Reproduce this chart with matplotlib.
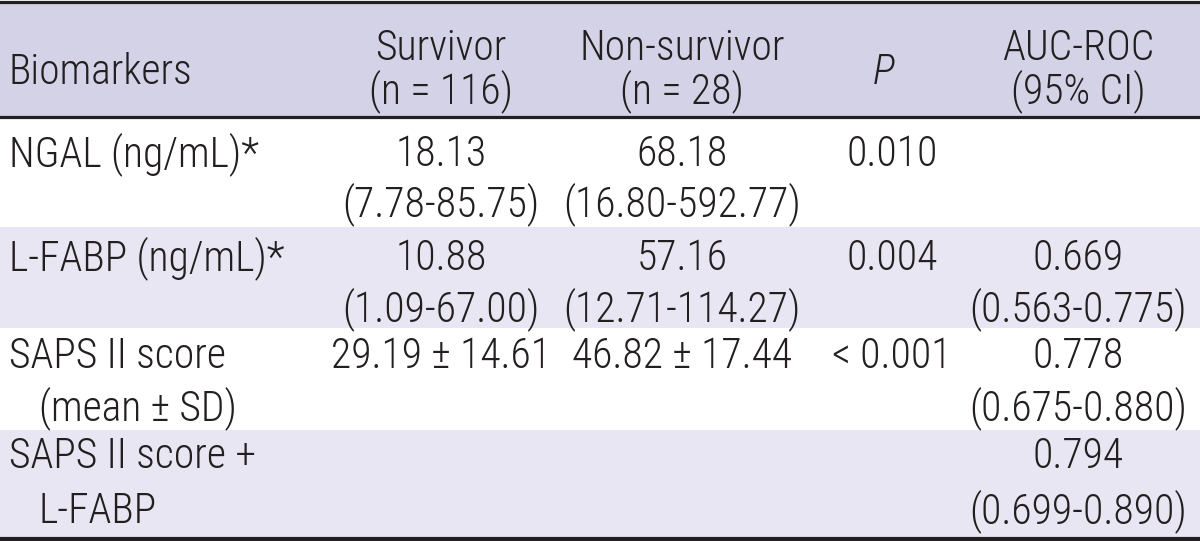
import matplotlib
matplotlib.use("Agg")
import matplotlib.pyplot as plt

# ---------------- data ----------------
header_biomarker = "Biomarkers"
header_survivor = ["Survivor", "(n = 116)"]
header_nonsurvivor = ["Non-survivor", "(n = 28)"]
header_p = "P"
header_auc = ["AUC-ROC", "(95% CI)"]

biomarkers = [["NGAL (ng/mL)*", ""],
              ["L-FABP (ng/mL)*", ""],
              ["SAPS II score", "(mean \u00b1 SD)"],
              ["SAPS II score +", "L-FABP"]]
survivor = [["18.13", "(7.78-85.75)"],
            ["10.88", "(1.09-67.00)"],
            ["29.19 \u00b1 14.61", ""],
            ["", ""]]
nonsurvivor = [["68.18", "(16.80-592.77)"],
               ["57.16", "(12.71-114.27)"],
               ["46.82 \u00b1 17.44", ""],
               ["", ""]]
p_values = ["0.010", "0.004", "< 0.001", ""]
auc_roc = [["", ""],
           ["0.669", "(0.563-0.775)"],
           ["0.778", "(0.675-0.880)"],
           ["0.794", "(0.699-0.890)"]]

# ---------------- style / layout ----------------
family = ["Roboto Condensed", "DejaVu Sans"]
FS = 30
TXT = "#231f20"
HEAD_BG = "#d4d2e7"
ALT_BG = "#e7e6f2"

W, H = 1200, 541
fig = plt.figure(figsize=(W / 100, H / 100), dpi=100)
ax = fig.add_axes([0, 0, 1, 1])
ax.set_xlim(0, W)
ax.set_ylim(H, 0)
ax.axis("off")

header_band = (3, 116)
row_bands = [(117, 227), (227, 328), (328, 430), (430, 537)]
row_bg = ["white", ALT_BG, "white", ALT_BG]

ax.axhspan(header_band[0], header_band[1], color=HEAD_BG, lw=0)
for (t, b), c in zip(row_bands, row_bg):
    ax.axhspan(t, b, color=c, lw=0)

ax.axhline(1.5, color=TXT, lw=2.3)
ax.axhline(116.5, color=TXT, lw=2.3)
ax.axhline(538.5, color=TXT, lw=3.0)

header_base = (60, 103)
row_base = [(166, 216), (270, 321), (368, 420), (468, 523)]

x_bio = 9
x_indent = 39
x_surv = 441
x_non = 682
x_p = 892
x_auc = 1078

kw = dict(family=family, fontsize=FS, color=TXT, va="baseline", fontweight=300)

ax.text(x_bio, (header_base[0] + header_base[1]) / 2 + 2, header_biomarker, ha="left", **kw)
for i in range(2):
    ax.text(x_surv, header_base[i], header_survivor[i], ha="center", **kw)
    ax.text(x_non, header_base[i], header_nonsurvivor[i], ha="center", **kw)
    ax.text(x_auc, header_base[i], header_auc[i], ha="center", **kw)
ax.text(x_p - 8, (header_base[0] + header_base[1]) / 2 + 2, header_p, ha="center",
        style="italic", **kw)

for r in range(4):
    b1, b2 = row_base[r]
    ax.text(x_bio, b1, biomarkers[r][0], ha="left", **kw)
    ax.text(x_indent, b2, biomarkers[r][1], ha="left", **kw)
    ax.text(x_surv, b1, survivor[r][0], ha="center", **kw)
    ax.text(x_surv, b2, survivor[r][1], ha="center", **kw)
    ax.text(x_non, b1, nonsurvivor[r][0], ha="center", **kw)
    ax.text(x_non, b2, nonsurvivor[r][1], ha="center", **kw)
    ax.text(x_p, b1, p_values[r], ha="center", **kw)
    ax.text(x_auc, b1, auc_roc[r][0], ha="center", **kw)
    ax.text(x_auc, b2, auc_roc[r][1], ha="center", **kw)

fig.savefig("out.png", dpi=100)
